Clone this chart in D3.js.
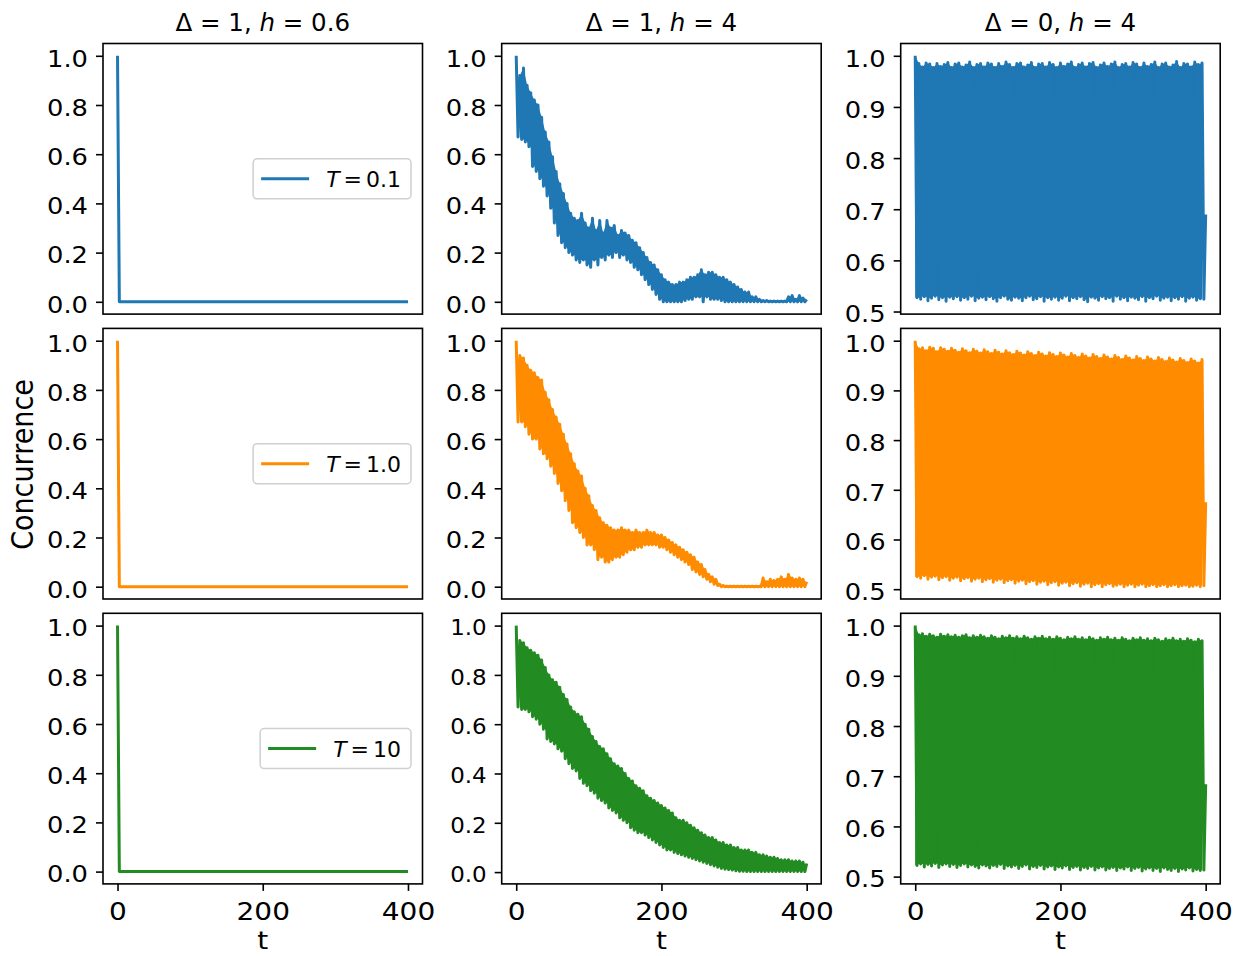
<!DOCTYPE html>
<html><head><meta charset="utf-8">
<script src="https://cdn.jsdelivr.net/npm/d3@7"></script>
<style>
body{margin:0;background:#fff}
svg{display:block}
text{font-family:"DejaVu Sans",sans-serif;fill:#000}
</style>
</head><body>
<svg id="chart" width="1239" height="956"></svg>
<script>
// ---------------- data ----------------
const titleDelta = ["1", "1", "0"];
const titleH = ["0.6", "4", "4"];
const legendT = ["0.1", "1.0", "10"];
const seriesColors = ["#1f77b4", "#ff8c00", "#228b22"];
const xTickValues = [0, 200, 400];
const yTicksDecay = [0.0, 0.2, 0.4, 0.6, 0.8, 1.0];
const yTicksOsc = [0.5, 0.6, 0.7, 0.8, 0.9, 1.0];
const yLabel = "Concurrence";
const xLabel = "t";

// column 1 (Δ=1, h=0.6): sudden death of concurrence
const quenchTime = [0, 2.5, 400];
const quenchC = [1.0, 0.0, 0.0];

// columns 2 and 3: peaks (t = 0,5,...,400) and troughs (t = 2.5,...,397.5)
const blueDecayPeaks = [
 1.00,0.92,0.95,0.88,0.85,0.82,0.80,0.75,0.69,0.65,
 0.59,0.53,0.48,0.44,0.40,0.36,0.34,0.33,0.36,0.32,
 0.30,0.34,0.29,0.33,0.28,0.33,0.30,0.31,0.27,0.29,
 0.28,0.27,0.25,0.24,0.22,0.20,0.18,0.16,0.15,0.13,
 0.11,0.09,0.08,0.07,0.07,0.08,0.08,0.09,0.10,0.10,
 0.11,0.13,0.11,0.12,0.12,0.11,0.10,0.10,0.09,0.08,
 0.07,0.06,0.05,0.04,0.04,0.02,0.02,0.01,0.005,0.005,
 0.003,0.003,0.003,0.003,0.003,0.02,0.025,0.01,0.025,0.015,
 0.01];
const blueDecayTroughs = [
 0.67,0.66,0.65,0.63,0.55,0.53,0.50,0.47,0.43,0.38,
 0.32,0.27,0.24,0.22,0.20,0.19,0.17,0.16,0.17,0.15,
 0.14,0.17,0.15,0.18,0.17,0.19,0.18,0.20,0.18,0.19,
 0.17,0.16,0.14,0.13,0.11,0.09,0.07,0.05,0.03,0.01,
 0,0,0,0,0,0,0.005,0.01,0.01,0.02,
 0.02,0,0.02,0.01,0.01,0.01,0.005,0,0,0,
 0,0,0,0,0,0,0,0,0,0,
 0,0,0,0,0,0,0,0,0,0];

const orangeDecayPeaks = [
 1.00,0.94,0.93,0.90,0.88,0.87,0.85,0.84,0.79,0.76,
 0.72,0.69,0.66,0.62,0.58,0.54,0.50,0.47,0.45,0.40,
 0.37,0.33,0.31,0.28,0.26,0.25,0.24,0.23,0.23,0.24,
 0.23,0.23,0.22,0.23,0.22,0.22,0.23,0.22,0.22,0.21,
 0.21,0.20,0.19,0.18,0.17,0.16,0.15,0.14,0.13,0.12,
 0.10,0.09,0.07,0.05,0.04,0.03,0.01,0.005,0.002,0.002,
 0.002,0.002,0.002,0.002,0.002,0.002,0.002,0.002,0.035,0.02,
 0.03,0.025,0.03,0.04,0.03,0.05,0.035,0.03,0.035,0.03,
 0.02];
const orangeDecayTroughs = [
 0.67,0.67,0.65,0.62,0.60,0.60,0.56,0.54,0.52,0.49,
 0.46,0.42,0.39,0.35,0.31,0.26,0.24,0.22,0.20,0.17,
 0.17,0.15,0.11,0.12,0.10,0.10,0.11,0.12,0.12,0.13,
 0.14,0.15,0.15,0.16,0.16,0.17,0.17,0.17,0.17,0.16,
 0.16,0.15,0.14,0.13,0.12,0.11,0.10,0.09,0.07,0.06,
 0.05,0.04,0.03,0.02,0.01,0.005,0,0,0,0,
 0,0,0,0,0,0,0,0,0,0,
 0,0,0,0,0,0,0,0,0,0];

const greenDecayPeaks = [
 1.00,0.94,0.93,0.91,0.90,0.89,0.88,0.86,0.83,0.80,
 0.78,0.77,0.75,0.72,0.70,0.67,0.65,0.64,0.63,0.60,
 0.58,0.55,0.53,0.51,0.50,0.48,0.46,0.44,0.43,0.42,
 0.40,0.38,0.37,0.35,0.34,0.33,0.31,0.30,0.29,0.28,
 0.27,0.26,0.25,0.24,0.22,0.21,0.21,0.20,0.19,0.18,
 0.17,0.16,0.15,0.14,0.14,0.13,0.12,0.12,0.11,0.11,
 0.10,0.10,0.09,0.09,0.09,0.08,0.08,0.07,0.07,0.065,
 0.06,0.06,0.055,0.05,0.05,0.05,0.045,0.045,0.045,0.04,
 0.035];
const greenDecayTroughs = [
 0.67,0.66,0.66,0.65,0.63,0.62,0.60,0.58,0.54,0.53,
 0.52,0.50,0.49,0.46,0.44,0.42,0.41,0.38,0.36,0.35,
 0.33,0.32,0.30,0.29,0.28,0.26,0.25,0.24,0.22,0.21,
 0.20,0.18,0.17,0.16,0.16,0.15,0.14,0.13,0.12,0.11,
 0.10,0.09,0.09,0.08,0.075,0.07,0.065,0.06,0.055,0.05,
 0.045,0.04,0.035,0.03,0.025,0.02,0.015,0.012,0.01,0.008,
 0.005,0.003,0.003,0.002,0.002,0.002,0.002,0.002,0.002,0.002,
 0.002,0.002,0.002,0.002,0.002,0.002,0.002,0.002,0.002,0.002];

const blueOscPeaks = [
 1.000,0.985,0.978,0.986,0.984,0.977,0.985,0.979,0.983,0.987,
 0.977,0.984,0.986,0.978,0.982,0.988,0.977,0.983,0.985,0.978,
 0.986,0.984,0.977,0.985,0.979,0.988,0.983,0.977,0.985,0.986,
 0.978,0.982,0.987,0.977,0.984,0.985,0.978,0.987,0.983,0.977,
 0.986,0.979,0.984,0.988,0.977,0.983,0.986,0.978,0.985,0.987,
 0.977,0.982,0.986,0.979,0.984,0.988,0.977,0.983,0.985,0.978,
 0.987,0.984,0.977,0.986,0.979,0.983,0.988,0.977,0.984,0.986,
 0.978,0.982,0.989,0.977,0.985,0.984,0.978,0.988,0.983,0.986,
 0.69];
const blueOscTroughs = [
 0.527,0.524,0.529,0.521,0.526,0.530,0.523,0.527,0.520,0.528,
 0.525,0.529,0.522,0.527,0.524,0.530,0.521,0.526,0.528,0.523,
 0.529,0.525,0.520,0.527,0.530,0.524,0.522,0.528,0.526,0.521,
 0.527,0.530,0.523,0.525,0.529,0.520,0.527,0.524,0.528,0.522,
 0.526,0.530,0.521,0.527,0.525,0.529,0.523,0.519,0.528,0.526,
 0.522,0.529,0.525,0.527,0.520,0.530,0.524,0.527,0.521,0.528,
 0.526,0.523,0.529,0.520,0.527,0.525,0.530,0.522,0.526,0.528,
 0.521,0.527,0.524,0.529,0.520,0.526,0.528,0.522,0.525,0.524];

const orangeOscPeaks = [
 1.000,0.984,0.986,0.980,0.987,0.985,0.978,0.986,0.983,0.979,
 0.985,0.981,0.977,0.984,0.980,0.976,0.983,0.979,0.975,0.982,
 0.978,0.974,0.981,0.977,0.973,0.980,0.976,0.972,0.979,0.975,
 0.971,0.978,0.974,0.970,0.977,0.973,0.969,0.976,0.972,0.968,
 0.975,0.971,0.967,0.974,0.970,0.966,0.973,0.969,0.965,0.972,
 0.968,0.964,0.971,0.967,0.963,0.970,0.966,0.962,0.969,0.965,
 0.961,0.968,0.964,0.960,0.967,0.963,0.959,0.966,0.962,0.958,
 0.965,0.961,0.957,0.964,0.960,0.956,0.963,0.959,0.955,0.962,
 0.675];
const orangeOscTroughs = [
 0.525,0.522,0.527,0.520,0.524,0.526,0.519,0.523,0.525,0.518,
 0.522,0.524,0.517,0.521,0.523,0.516,0.520,0.522,0.515,0.519,
 0.521,0.514,0.518,0.520,0.513,0.517,0.519,0.512,0.516,0.518,
 0.511,0.515,0.517,0.510,0.514,0.516,0.509,0.513,0.515,0.508,
 0.512,0.514,0.507,0.511,0.513,0.506,0.510,0.512,0.505,0.509,
 0.511,0.505,0.509,0.511,0.506,0.508,0.510,0.505,0.508,0.510,
 0.505,0.508,0.510,0.505,0.507,0.509,0.505,0.507,0.509,0.505,
 0.507,0.509,0.505,0.507,0.508,0.505,0.506,0.508,0.505,0.507];

const greenOscPeaks = [
 1.000,0.982,0.984,0.979,0.983,0.980,0.977,0.983,0.979,0.982,
 0.978,0.981,0.977,0.980,0.982,0.976,0.980,0.977,0.981,0.978,
 0.975,0.980,0.977,0.974,0.979,0.976,0.980,0.975,0.978,0.974,
 0.979,0.976,0.973,0.978,0.975,0.979,0.974,0.977,0.973,0.978,
 0.975,0.972,0.977,0.974,0.978,0.973,0.976,0.972,0.977,0.974,
 0.971,0.976,0.973,0.977,0.972,0.975,0.971,0.976,0.973,0.970,
 0.975,0.972,0.976,0.971,0.974,0.970,0.975,0.972,0.969,0.974,
 0.971,0.975,0.970,0.973,0.969,0.974,0.971,0.968,0.973,0.970,
 0.684];
const greenOscTroughs = [
 0.522,0.525,0.519,0.524,0.521,0.526,0.518,0.523,0.525,0.520,
 0.524,0.518,0.522,0.525,0.519,0.523,0.520,0.517,0.523,0.521,
 0.517,0.522,0.520,0.524,0.516,0.521,0.519,0.522,0.516,0.520,
 0.523,0.515,0.520,0.518,0.522,0.515,0.519,0.521,0.514,0.519,
 0.517,0.521,0.514,0.518,0.520,0.513,0.518,0.516,0.520,0.513,
 0.517,0.519,0.513,0.516,0.518,0.512,0.517,0.515,0.519,0.512,
 0.516,0.518,0.511,0.515,0.517,0.512,0.516,0.510,0.517,0.514,
 0.512,0.516,0.510,0.515,0.513,0.517,0.511,0.514,0.512,0.513];

const sampleStep = 2.5; // time between a peak and the next trough

// ---------------- layout ----------------
const colX = [103, 501.7, 900.7];
const rowY = [43.5, 328.4, 613.3];
const PW = 319.5, PH = 270.6;
const SX = 1.12; // horizontal stretch of tick/axis-label text

function interleave(peaks, troughs) {
  const pts = [];
  for (let i = 0; i < peaks.length; i++) {
    pts.push([2 * i * sampleStep, peaks[i]]);
    if (i < troughs.length) pts.push([(2 * i + 1) * sampleStep, troughs[i]]);
  }
  return pts;
}
// region swept by the fast oscillation (between neighbouring peaks and troughs)
function sweep(peaks, troughs, start) {
  const band = [];
  for (let i = start; i < troughs.length; i++) {
    const lo = i > 0 ? Math.max(troughs[i - 1], troughs[i]) : troughs[i];
    band.push([2 * i * sampleStep, peaks[i], lo]);
  }
  return band;
}
const quenchPts = quenchTime.map((t, i) => [t, quenchC[i]]);
const grid = [
  [quenchPts, interleave(blueDecayPeaks, blueDecayTroughs), interleave(blueOscPeaks, blueOscTroughs)],
  [quenchPts, interleave(orangeDecayPeaks, orangeDecayTroughs), interleave(orangeOscPeaks, orangeOscTroughs)],
  [quenchPts, interleave(greenDecayPeaks, greenDecayTroughs), interleave(greenOscPeaks, greenOscTroughs)]
];
const sweeps = [
  [null, sweep(blueDecayPeaks, blueDecayTroughs, 1), sweep(blueOscPeaks, blueOscTroughs, 0)],
  [null, sweep(orangeDecayPeaks, orangeDecayTroughs, 1), sweep(orangeOscPeaks, orangeOscTroughs, 0)],
  [null, sweep(greenDecayPeaks, greenDecayTroughs, 1), sweep(greenOscPeaks, greenOscTroughs, 0)]
];

const svg = d3.select("#chart");
function padded(ext) { const r = ext[1] - ext[0]; return [ext[0] - 0.05 * r, ext[1] + 0.05 * r]; }

for (let r = 0; r < 3; r++) {
  for (let c = 0; c < 3; c++) {
    const pts = grid[r][c];
    const g = svg.append("g").attr("transform", `translate(${colX[c]},${rowY[r]})`);
    const x = d3.scaleLinear().domain(padded(d3.extent(pts, d => d[0]))).range([0, PW]);
    const y = d3.scaleLinear().domain(padded(d3.extent(pts, d => d[1]))).range([PH, 0]);
    const cid = `clip${r}${c}`;
    g.append("clipPath").attr("id", cid).append("rect").attr("width", PW).attr("height", PH);
    const plot = g.append("g").attr("clip-path", `url(#${cid})`);
    if (sweeps[r][c]) {
      plot.append("path").datum(sweeps[r][c])
        .attr("fill", seriesColors[r]).attr("stroke", "none")
        .attr("d", d3.area().x(d => x(d[0])).y1(d => y(d[1])).y0(d => y(d[2])));
    }
    plot.append("path").datum(pts)
      .attr("fill", "none").attr("stroke", seriesColors[r]).attr("stroke-width", 3)
      .attr("stroke-linejoin", "round").attr("stroke-linecap", "butt")
      .attr("d", d3.line().x(d => x(d[0])).y(d => y(d[1])));
    g.append("rect").attr("width", PW).attr("height", PH)
      .attr("fill", "none").attr("stroke", "#000").attr("stroke-width", 1.6);

    // y axis
    const yfs = (r === 2 && c === 1) ? 20.5 : 23;
    const ya = g.append("g").call(d3.axisLeft(y).tickValues(c === 2 ? yTicksOsc : yTicksDecay)
      .tickSize(7).tickFormat(d3.format(".1f")));
    ya.select(".domain").remove();
    ya.selectAll(".tick line").attr("stroke", "#000").attr("stroke-width", 1.6);
    ya.selectAll(".tick text").attr("font-size", yfs).attr("font-family", "DejaVu Sans")
      .attr("x", -15 / SX).attr("dy", null).attr("y", yfs * 0.45)
      .attr("transform", `scale(${SX},1)`).attr("fill", "#000");

    if (r === 2) {
      const xa = g.append("g").attr("transform", `translate(0,${PH})`)
        .call(d3.axisBottom(x).tickValues(xTickValues).tickSize(7).tickFormat(d3.format("d")));
      xa.select(".domain").remove();
      xa.selectAll(".tick line").attr("stroke", "#000").attr("stroke-width", 1.6);
      xa.selectAll(".tick text").attr("font-size", 25).attr("font-family", "DejaVu Sans")
        .attr("y", 36).attr("dy", null).attr("transform", `scale(${SX},1)`).attr("fill", "#000");
      g.append("text").attr("transform", `translate(${PW / 2},${949 - rowY[r]}) scale(${SX},1)`)
        .attr("text-anchor", "middle").attr("font-size", 25).text(xLabel);
    }

    if (r === 0) {
      const t = g.append("text").attr("transform", `translate(${PW / 2},-12.8)`)
        .attr("text-anchor", "middle").attr("font-size", 24.5);
      t.append("tspan").text(`Δ = ${titleDelta[c]}, `);
      t.append("tspan").attr("font-style", "italic").text("h");
      t.append("tspan").text(` = ${titleH[c]}`);
    }

    if (c === 0) {
      const lg = g.append("g");
      const box = lg.append("rect");
      const txt = lg.append("text").attr("font-size", 22).attr("word-spacing", -3);
      txt.append("tspan").attr("font-style", "italic").text("T");
      txt.append("tspan").text(` = ${legendT[r]}`);
      const tw = txt.node().getComputedTextLength();
      const right = PW - 11.5;
      const bw = 8 + 48 + 18 + tw + 9;
      const left = right - bw;
      const cy = PH / 2;
      box.attr("x", left).attr("y", cy - 20).attr("width", bw).attr("height", 40)
        .attr("rx", 4).attr("fill", "#fff").attr("fill-opacity", 0.8)
        .attr("stroke", "#d0d0d0").attr("stroke-width", 1.5);
      lg.append("line").attr("x1", left + 8).attr("x2", left + 56).attr("y1", cy).attr("y2", cy)
        .attr("stroke", seriesColors[r]).attr("stroke-width", 3);
      txt.attr("x", left + 73).attr("y", cy + 8.3);
    }
  }
}

svg.append("text")
  .attr("transform", `translate(33.3,464.5) scale(${SX},1) rotate(-90)`)
  .attr("text-anchor", "middle").attr("font-size", 27).text(yLabel);
</script>
</body></html>
